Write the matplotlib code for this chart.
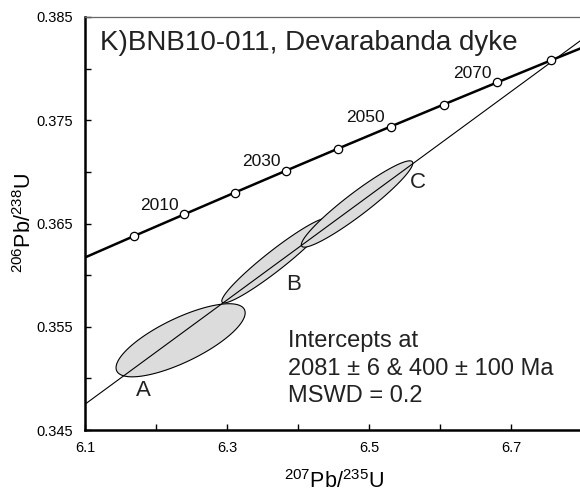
import numpy as np
import matplotlib.pyplot as plt
from matplotlib.patches import Polygon

plt.rcParams['font.family'] = ['Liberation Sans', 'DejaVu Sans']
plt.rcParams['mathtext.fontset'] = 'custom'
plt.rcParams['mathtext.rm'] = 'Liberation Sans'
plt.rcParams['mathtext.it'] = 'Liberation Sans'

# concordia points (Ma) with 207Pb/235U and 206Pb/238U
ages = [1990, 2000, 2010, 2020, 2030, 2040, 2050, 2060, 2070, 2080, 2090]
conc_x = [6.0983, 6.1685, 6.2395, 6.3111, 6.3835, 6.4566, 6.5304, 6.6049, 6.6802, 6.7562, 6.8329]
conc_y = [0.36166, 0.36377, 0.36588, 0.36800, 0.37013, 0.37226, 0.37439, 0.37652, 0.37866, 0.38080, 0.38294]
marked_ages = [2000, 2010, 2020, 2030, 2040, 2050, 2060, 2070, 2080]
labelled_ages = [2010, 2030, 2050, 2070]

# discordia intercepts (400 Ma and 2081 Ma)
lower_icpt = (0.4828, 0.0640)
upper_icpt = (6.7638, 0.3810)

# error ellipses: centre x, centre y, half width, half height, correlation
spots = ['A', 'B', 'C']
ell_cx = [6.2346, 6.3676, 6.4831]
ell_cy = [0.35369, 0.36141, 0.36689]
ell_hx = [0.0909, 0.0750, 0.0785]
ell_hy = [0.00354, 0.00410, 0.00418]
ell_rho = [0.75, 0.955, 0.945]
spot_lx = [6.1817, 6.3930, 6.5690]
spot_ly = [0.34879, 0.35908, 0.36898]

result_lines = ['Intercepts at', '2081 ± 6 & 400 ± 100 Ma', 'MSWD = 0.2']

fig = plt.figure(figsize=(5.8, 4.97), dpi=100)
ax = fig.add_axes([0.1466, 0.1348, 0.857, 0.831])

t = np.linspace(0, 2 * np.pi, 300)
for i in range(len(spots)):
    ex = ell_cx[i] + ell_hx[i] * np.cos(t)
    ey = ell_cy[i] + ell_hy[i] * (ell_rho[i] * np.cos(t) + np.sqrt(1 - ell_rho[i] ** 2) * np.sin(t))
    ax.add_patch(Polygon(np.column_stack([ex, ey]), closed=True, facecolor='#dcdcdc',
                         edgecolor='black', linewidth=0.8, zorder=2 + i * 0.1))
    ax.text(spot_lx[i], spot_ly[i], spots[i], fontsize=16, ha='center', va='center',
            color='#222222', zorder=5)

ax.axline(lower_icpt, upper_icpt, color='black', linewidth=0.8, zorder=3)

ax.plot(conc_x, conc_y, color='black', linewidth=1.8, zorder=4)
mx = [conc_x[ages.index(a)] for a in marked_ages]
my = [conc_y[ages.index(a)] for a in marked_ages]
ax.plot(mx, my, 'o', markersize=6, markerfacecolor='white', markeredgecolor='black',
        markeredgewidth=0.9, zorder=6)
for a in labelled_ages:
    k = ages.index(a)
    ax.annotate(str(a), (conc_x[k], conc_y[k]), xytext=(-4, 1), textcoords='offset points',
                ha='right', va='bottom', fontsize=12.5, color='#111111', zorder=6)

ax.text(0.030, 0.937, 'K)BNB10-011, Devarabanda dyke', transform=ax.transAxes,
        fontsize=20, ha='left', va='center', color='#222222')

# fit summary, one line at a time
line_y = [0.35364, 0.35092, 0.34830]
for s, yy in zip(result_lines, line_y):
    ax.text(6.3859, yy, s, fontsize=17, ha='left', va='center', color='#222222')

ax.set_xlim(6.1, 6.8)
ax.set_ylim(0.345, 0.385)
ax.set_xticks([6.1, 6.3, 6.5, 6.7])
ax.set_xticks([6.2, 6.4, 6.6], minor=True)
ax.set_yticks([0.345, 0.355, 0.365, 0.375, 0.385])
ax.set_yticks([0.350, 0.360, 0.370, 0.380], minor=True)
ax.set_xticklabels(['6.1', '6.3', '6.5', '6.7'])
ax.set_yticklabels(['0.345', '0.355', '0.365', '0.375', '0.385'])
ax.tick_params(which='both', direction='in', length=4, width=1, labelsize=10.5)
ax.tick_params(axis='x', pad=8)
ax.tick_params(axis='y', pad=9)

ax.spines['left'].set_linewidth(1.8)
ax.spines['bottom'].set_linewidth(1.8)
ax.spines['top'].set_linewidth(0.9)
ax.spines['top'].set_color('#666666')
ax.spines['right'].set_visible(False)

ax.set_xlabel('$^{207}$Pb/$^{235}$U', fontsize=15.5, labelpad=11)
ax.set_ylabel('$^{206}$Pb/$^{238}$U', fontsize=15.5, labelpad=0)

fig.savefig('out.png', dpi=100)
